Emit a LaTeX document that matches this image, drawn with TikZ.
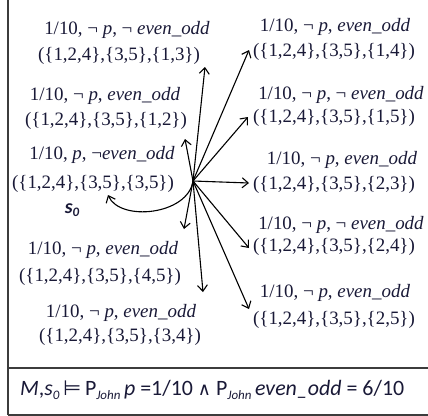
\documentclass[tikz,border=0pt]{standalone}
\usepackage{fontspec}
\setmainfont{Liberation Serif}
\newfontfamily\carlito{Carlito}
\newfontfamily\dejavu{DejaVu Sans}
\usetikzlibrary{arrows.meta}
\definecolor{txt}{RGB}{25,25,55}
\definecolor{framec}{RGB}{60,60,60}
\newcommand{\sbs}[1]{\raisebox{-0.35ex}{\fontsize{13}{13}\selectfont\itshape #1}}
\newcommand{\eo}{\textit{even\_odd}}
\begin{document}
\begin{tikzpicture}[x=1bp,y=-1bp,
  lab/.style={inner sep=0pt, text=txt, font=\fontsize{19}{22}\selectfont, anchor=center},
  edge/.style={line width=1.1bp, draw=black, -{Straight Barb[length=6bp,width=10bp]}},
  framel/.style={line width=1.5bp, draw=framec}]
\useasboundingbox (0,0) rectangle (428,416);
% frame
\draw[framel] (8,0) -- (8,415);
\draw[framel] (8,368) -- (428,368);
\draw[framel] (8,415) -- (428,415);
% left column
\node[lab] (l13a) at (127,30) {1/10, ¬ \textit{p}, ¬ \eo};
\node[lab] (l13b) at (119,56) {(\{1,2,4\},\{3,5\},\{1,3\})};
\node[lab] (l12a) at (105,96) {1/10, ¬ \textit{p}, \eo};
\node[lab] (l12b) at (106,121) {(\{1,2,4\},\{3,5\},\{1,2\})};
\node[lab] (l35a) at (102,155) {1/10, \textit{p}, ¬\eo};
\node[lab] (l35b) at (93,184) {(\{1,2,4\},\{3,5\},\{3,5\})};
\node[inner sep=0pt, text=txt, font=\carlito\fontsize{20}{22}\selectfont\bfseries\itshape] (s0) at (72,210) {s\sbs{\bfseries 0}};
\node[lab] (l45a) at (103,250) {1/10, ¬ \textit{p}, \eo};
\node[lab] (l45b) at (100,277) {(\{1,2,4\},\{3,5\},\{4,5\})};
\node[lab] (l34a) at (121,313) {1/10, ¬ \textit{p}, \eo};
\node[lab] (l34b) at (120,337) {(\{1,2,4\},\{3,5\},\{3,4\})};
% right column
\node[lab] (r14a) at (335,27) {1/10, ¬ \textit{p}, \eo};
\node[lab] (r14b) at (334,52) {(\{1,2,4\},\{3,5\},\{1,4\})};
\node[lab] (r15a) at (341,95) {1/10, ¬ \textit{p}, ¬ \eo};
\node[lab] (r15b) at (334,118) {(\{1,2,4\},\{3,5\},\{1,5\})};
\node[lab] (r23a) at (342,160) {1/10, ¬ \textit{p}, \eo};
\node[lab] (r23b) at (334,185) {(\{1,2,4\},\{3,5\},\{2,3\})};
\node[lab] (r24a) at (341,225) {1/10, ¬ \textit{p}, ¬ \eo};
\node[lab] (r24b) at (334,247) {(\{1,2,4\},\{3,5\},\{2,4\})};
\node[lab] (r25a) at (335,293) {1/10, ¬ \textit{p}, \eo};
\node[lab] (r25b) at (334,320) {(\{1,2,4\},\{3,5\},\{2,5\})};
% hub and arrow tips
\coordinate (hub) at (193,181);
\coordinate (t13) at (205,67);
\coordinate (t12) at (185,139);
\coordinate (t35) at (108,195);
\coordinate (t45) at (184,229);
\coordinate (t34) at (203,292);
\coordinate (t14) at (249,50);
\coordinate (t15) at (248,117);
\coordinate (t23) at (249,183);
\coordinate (t24) at (249,248);
\coordinate (t25) at (249,309);
\draw[edge] (hub) -- (t13);
\draw[edge] (hub) -- (t12);
\draw[edge] (hub) .. controls (188,215) and (120,222) .. (t35);
\draw[edge] (hub) -- (t45);
\draw[edge] (hub) -- (t34);
\draw[edge] (hub) -- (t14);
\draw[edge] (hub) -- (t15);
\draw[edge] (hub) -- (t23);
\draw[edge] (hub) -- (t24);
\draw[edge] (hub) -- (t25);
% formula
\node[anchor=west, inner sep=0pt, text=txt, font=\carlito\fontsize{22}{26}\selectfont] (form) at (20,390)
  {\textit{M},\textit{s}\sbs{0}\,{\dejavu\fontsize{21}{22}\selectfont ⊨}\,P\sbs{John}\,\textit{p} =1/10 {\dejavu\fontsize{18}{18}\selectfont ∧} P\sbs{John}\,\textit{even\_odd} = 6/10};
\end{tikzpicture}
\end{document}
